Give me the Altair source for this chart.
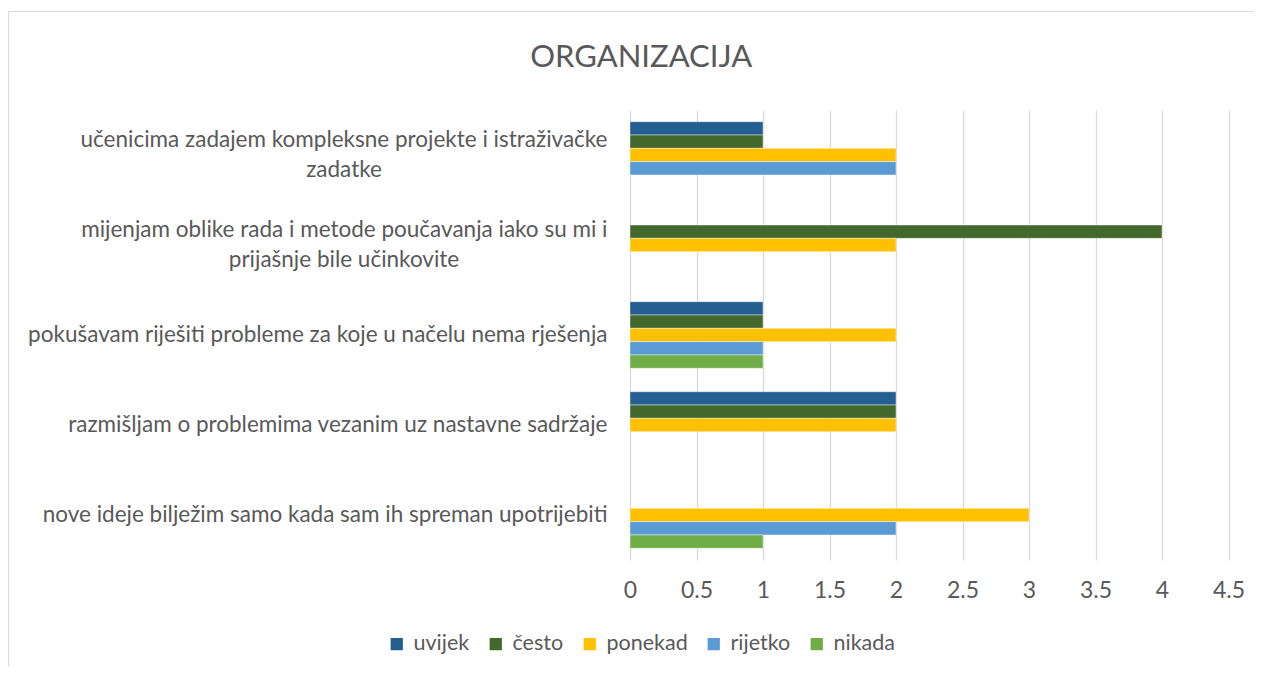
import altair as alt
import pandas as pd

categories = [
    "učenicima zadajem kompleksne projekte i istraživačke|zadatke",
    "mijenjam oblike rada i metode poučavanja iako su mi i|prijašnje bile učinkovite",
    "pokušavam riješiti probleme za koje u načelu nema rješenja",
    "razmišljam o problemima vezanim uz nastavne sadržaje",
    "nove ideje bilježim samo kada sam ih spreman upotrijebiti",
]
series = ["uvijek", "često", "ponekad", "rijetko", "nikada"]
colors = ["#255E91", "#43682B", "#FFC000", "#5B9BD5", "#70AD47"]

uvijek = [1, 0, 1, 2, 0]
cesto = [1, 4, 1, 2, 0]
ponekad = [2, 2, 2, 2, 3]
rijetko = [2, 0, 1, 0, 2]
nikada = [0, 0, 1, 0, 1]

x_ticks = [0, 0.5, 1, 1.5, 2, 2.5, 3, 3.5, 4, 4.5]

rows = []
for s, vals in zip(series, [uvijek, cesto, ponekad, rijetko, nikada]):
    for c, v in zip(categories, vals):
        if v > 0:
            rows.append({"kategorija": c, "serija": s, "vrijednost": v})
df = pd.DataFrame(rows)

FONT = "Lato"
GRAY = "#595959"
CAT_SIZE = 22.5

x_enc = alt.X(
    "vrijednost:Q",
    scale=alt.Scale(domain=[0, 4.5], nice=False),
    axis=alt.Axis(
        values=x_ticks, format="~g", title=None, domain=False, ticks=False,
        grid=True, gridColor="#D9D9D9", gridWidth=1.3, labelFlush=False,
        labelFont=FONT, labelFontSize=23, labelColor=GRAY, labelPadding=19,
    ),
)
y_scale = alt.Scale(domain=categories, paddingInner=0, paddingOuter=0)
y_off = alt.YOffset(
    "serija:N",
    sort=series,
    scale=alt.Scale(domain=series, paddingInner=0, paddingOuter=0.88),
)

bars = alt.Chart(df).mark_bar(stroke="white", strokeWidth=0.6, strokeOpacity=0.7).encode(
    x=x_enc,
    y=alt.Y(
        "kategorija:N",
        sort=categories,
        scale=y_scale,
        axis=alt.Axis(
            title=None, domain=False, ticks=False, grid=False,
            labelExpr="split(datum.label, '|')[0]",
            labelFont=FONT, labelFontSize=CAT_SIZE, labelColor=GRAY, labelPadding=23,
            labelAlign="right", labelLimit=700,
            labelOffset={"condition": {"test": "indexof(datum.label, '|') >= 0", "value": -15}, "value": 0},
        ),
    ),
    yOffset=y_off,
    color=alt.Color(
        "serija:N",
        sort=series,
        scale=alt.Scale(domain=series, range=colors),
        legend=alt.Legend(
            title=None, orient="none", direction="horizontal",
            legendX=-244, legendY=523,
            symbolType="square", symbolSize=150, symbolStrokeWidth=0,
            labelFont=FONT, labelFontSize=21.5, labelColor=GRAY,
            labelOffset=6, columnPadding=15,
        ),
    ),
)

second_lines = alt.Chart(df).mark_bar(opacity=0).encode(
    x=x_enc,
    y=alt.Y(
        "kategorija:N",
        sort=categories,
        scale=y_scale,
        axis=alt.Axis(
            orient="right", title=None, domain=False, ticks=False, grid=False,
            labelExpr="indexof(datum.label, '|') >= 0 ? split(datum.label, '|')[1] : ''",
            labelFont=FONT, labelFontSize=CAT_SIZE, labelColor=GRAY, labelPadding=-885,
            labelAlign="center", labelLimit=700, labelOffset=15,
        ),
    ),
    yOffset=y_off,
)

one = pd.DataFrame({"a": [0]})
border_top = alt.Chart(one).mark_rule(stroke="#D9D9D9", strokeWidth=1.2).encode(
    x=alt.value(-622), x2=alt.value(624), y=alt.value(-98.5)
)
border_left = alt.Chart(one).mark_rule(stroke="#D9D9D9", strokeWidth=1.2).encode(
    x=alt.value(-621.5), y=alt.value(-99), y2=alt.value(556)
)

chart = alt.layer(border_top, border_left, bars, second_lines).resolve_axis(y="independent").properties(
    width=598.5,
    height=450,
    title=alt.TitleParams(
        "ORGANIZACIJA", font=FONT, fontSize=31, fontWeight="normal", color=GRAY,
        anchor="middle", frame="group", dx=-288, offset=-88, baseline="alphabetic",
    ),
    autosize=alt.AutoSizeParams(type="none"),
    padding={"left": 622, "top": 102, "right": 25.5, "bottom": 106},
).configure_view(stroke=None)

chart.save("out.html", embed_options={"renderer": "svg", "actions": False})
